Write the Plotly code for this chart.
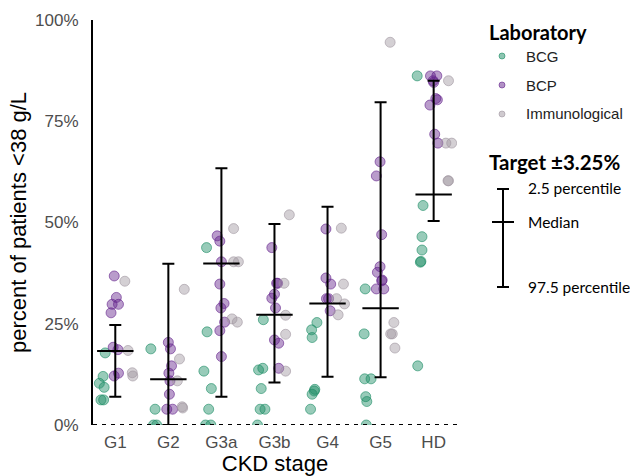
import plotly.graph_objects as go

stages = ["G1", "G2", "G3a", "G3b", "G4", "G5", "HD"]

# summary per stage (percent): lower bar end, median, upper bar end
bar_low = [7.0, 0.0, 7.0, 10.5, 11.9, 11.8, 50.4]
bar_mid = [18.3, 11.3, 39.9, 27.2, 30.0, 28.8, 56.9]
bar_high = [24.7, 39.8, 63.4, 49.6, 53.9, 79.7, 85.0]

# BCG points: stage index, jitter, value
bcg_cat = [0, 0, 0, 0, 0, 0,
           1, 1, 1, 1,
           2, 2, 2, 2, 2, 2, 2,
           3, 3, 3, 3, 3, 3, 3,
           4, 4, 4, 4, 4, 4, 4,
           5, 5, 5, 5, 5, 5, 5,
           6, 6, 6, 6, 6, 6, 6]
bcg_jit = [-0.19, -0.23, -0.30, -0.21, -0.27, -0.22,
           -0.33, -0.25, -0.28, -0.22,
           -0.28, -0.27, -0.33, -0.19, -0.24, -0.30, -0.20,
           -0.21, -0.30, -0.22, -0.25, -0.27, -0.18, -0.32,
           -0.20, -0.30, -0.29, -0.24, -0.25, -0.29, -0.32,
           -0.29, -0.31, -0.30, -0.18, -0.28, -0.26, -0.27,
           -0.31, -0.20, -0.22, -0.22, -0.25, -0.24, -0.30]
bcg_val = [17.8, 12.0, 10.3, 9.3, 6.2, 6.2,
           18.8, 3.9, 0.0, 0.0,
           43.8, 23.0, 13.3, 9.0, 3.9, 0.0, 0.0,
           26.0, 13.6, 14.0, 9.0, 3.9, 3.9, 0.0,
           25.3, 23.5, 21.6, 8.8, 8.4, 7.6, 3.9,
           33.6, 22.5, 11.4, 11.4, 7.0, 5.8, 0.0,
           86.2, 54.2, 46.5, 43.2, 40.2, 40.4, 14.6]

# BCP points
bcp_cat = [0, 0, 0, 0, 0, 0, 0, 0, 0,
           1, 1, 1, 1, 1, 1, 1, 1,
           2, 2, 2, 2, 2, 2, 2, 2, 2,
           3, 3, 3, 3, 3, 3, 3, 3, 3,
           4, 4, 4, 4, 4, 4,
           5, 5, 5, 5, 5, 5, 5, 5, 5,
           6, 6, 6, 6, 6, 6, 6, 6, 6]
bcp_jit = [-0.02, 0.02, -0.06, 0.06, -0.08, -0.04, 0.05, 0.06, -0.02,
           0.00, 0.04, 0.06, 0.01, 0.03, 0.02, -0.03, 0.08,
           -0.08, -0.03, 0.00, -0.03, 0.05, -0.01, 0.06, -0.03, 0.00,
           -0.05, 0.06, 0.04, 0.00, -0.05, 0.02, 0.00, 0.08, 0.08,
           -0.03, -0.03, 0.06, -0.02, 0.02, 0.05,
           -0.01, -0.08, 0.02, -0.01, -0.06, 0.02, 0.03, -0.08, 0.06,
           -0.06, 0.06, -0.01, 0.00, 0.07, 0.04, -0.07, 0.02, 0.08]
bcp_val = [36.8, 31.5, 29.8, 29.8, 27.7, 19.2, 18.6, 12.8, 12.1,
           20.4, 18.8, 14.6, 12.8, 10.9, 7.6, 3.9, 3.9,
           46.7, 45.4, 40.3, 34.8, 30.0, 28.9, 25.4, 23.3, 16.9,
           43.8, 35.0, 35.0, 32.3, 31.3, 28.9, 21.0, 20.2, 14.0,
           48.4, 36.3, 34.8, 31.2, 31.2, 28.2,
           65.0, 61.5, 47.0, 39.1, 37.7, 35.6, 35.8, 33.6, 33.6,
           86.2, 86.2, 85.0, 84.6, 80.3, 80.6, 79.0, 71.8, 69.6]

# Immunological points
imm_cat = [0, 0, 0, 0,
           1, 1, 1, 1, 1,
           2, 2, 2, 2, 2,
           3, 3, 3, 3, 3,
           4, 4, 4, 4, 4,
           5, 5, 5, 5, 5,
           6, 6, 6, 6, 6]
imm_jit = [0.18, 0.24, 0.32, 0.33,
           0.30, 0.21, 0.17, 0.26, 0.27,
           0.23, 0.23, 0.32, 0.20, 0.30,
           0.28, 0.18, 0.21, 0.21, 0.21,
           0.26, 0.30, 0.17, 0.32, 0.20,
           0.18, 0.25, 0.19, 0.22, 0.27,
           0.28, 0.23, 0.34, 0.27, 0.28]
imm_val = [35.5, 18.4, 12.9, 12.1,
           33.5, 16.3, 10.9, 4.5, 4.2,
           48.5, 40.3, 40.3, 26.2, 25.4,
           51.9, 35.0, 27.1, 22.4, 13.3,
           48.6, 34.8, 31.2, 29.9, 27.2,
           94.5, 25.3, 22.5, 22.5, 19.0,
           85.0, 69.6, 69.6, 60.3, 60.3]

labs = [
    ("BCG", bcg_cat, bcg_jit, bcg_val, (27, 140, 100)),
    ("BCP", bcp_cat, bcp_jit, bcp_val, (100, 35, 140)),
    ("Immunological", imm_cat, imm_jit, imm_val, (160, 150, 160)),
]

fig = go.Figure()

for name, cats, jits, vals, rgb in labs:
    r, g, b = rgb
    fig.add_trace(go.Scatter(
        x=[c + j for c, j in zip(cats, jits)], y=vals, mode="markers", name=name,
        marker=dict(size=10, color=f"rgba({r},{g},{b},0.45)",
                    line=dict(width=1, color=f"rgba({r},{g},{b},0.6)")),
        showlegend=False, hoverinfo="y",
    ))

idx = list(range(len(stages)))
fig.add_trace(go.Scatter(
    x=idx, y=bar_mid, mode="markers",
    marker=dict(size=1, color="rgba(0,0,0,0)"),
    error_y=dict(type="data", symmetric=False,
                 array=[h - m for h, m in zip(bar_high, bar_mid)],
                 arrayminus=[m - l for m, l in zip(bar_mid, bar_low)],
                 color="black", thickness=2, width=6),
    showlegend=False, hoverinfo="skip",
))
fig.add_trace(go.Scatter(
    x=idx, y=bar_mid, mode="markers",
    marker=dict(symbol="line-ew", size=26, line=dict(width=2, color="black")),
    showlegend=False, hoverinfo="skip",
))

# dashed zero line
fig.add_shape(type="line", xref="paper", yref="y", x0=0, x1=1, y0=0, y1=0,
              line=dict(color="black", width=2, dash="4px,5px"))

# ---- custom legend ----
W, H, L, T = 364.0, 405.0, 93.0, 20.0
def px(xp):
    return (xp - L) / W
def py(yp):
    return (T + H - yp) / H

fig.add_annotation(x=px(487), y=py(32), xref="paper", yref="paper", xanchor="left", yanchor="middle",
                   text="<b>Laboratory</b>", showarrow=False,
                   font=dict(family="Lato", size=20, color="black"))
for (name, _, _, _, rgb), yy in zip(labs, [56, 85, 114]):
    r, g, b = rgb
    fig.add_shape(type="circle", xref="paper", yref="paper", xsizemode="pixel", ysizemode="pixel",
                  xanchor=px(502), yanchor=py(yy), x0=-3, x1=3, y0=-3, y1=3,
                  fillcolor=f"rgba({r},{g},{b},0.5)", line=dict(width=1, color=f"rgba({r},{g},{b},0.6)"))
    fig.add_annotation(x=px(524), y=py(yy), xref="paper", yref="paper", xanchor="left", yanchor="middle",
                       text=name, showarrow=False,
                       font=dict(family="Liberation Sans", size=15, color="#222222"))

fig.add_annotation(x=px(487), y=py(162), xref="paper", yref="paper", xanchor="left", yanchor="middle",
                   text="<b>Target ±3.25%</b>", showarrow=False,
                   font=dict(family="Lato", size=20.5, color="black"))
bx = px(503)
fig.add_shape(type="line", xref="paper", yref="paper", x0=bx, x1=bx, y0=py(287), y1=py(189),
              line=dict(color="black", width=2))
for yy, hw in [(189, 6), (287, 6), (222, 11)]:
    fig.add_shape(type="line", xref="paper", yref="paper", x0=px(503 - hw), x1=px(503 + hw),
                  y0=py(yy), y1=py(yy), line=dict(color="black", width=2))
for txt, yy in [("2.5 percentile", 188), ("Median", 222), ("97.5 percentile", 287)]:
    fig.add_annotation(x=px(526), y=py(yy), xref="paper", yref="paper", xanchor="left", yanchor="middle",
                       text=txt, showarrow=False,
                       font=dict(family="Lato", size=15.5, color="black"))

fig.update_layout(
    width=630, height=476,
    margin=dict(l=93, r=173, t=20, b=51),
    paper_bgcolor="white", plot_bgcolor="white",
    font=dict(family="Liberation Sans"),
    xaxis=dict(range=[-0.42, 6.44], tickvals=idx, ticktext=stages, showgrid=False,
               zeroline=False, showline=False, ticks="", automargin=False,
               ticklabelstandoff=5,
               tickfont=dict(size=17, color="#4d4d4d"),
               title=dict(text="CKD stage", font=dict(size=22, color="black"), standoff=5)),
    yaxis=dict(range=[0, 100], tickvals=[0, 25, 50, 75, 100],
               ticktext=["0%", "25%", "50%", "75%", "100%"], showgrid=False,
               zeroline=False, showline=True, linecolor="black", linewidth=2, ticks="",
               automargin=False, ticklabelstandoff=9,
               tickfont=dict(size=17, color="#4d4d4d"),
               title=dict(text="percent of patients <38 g/L", font=dict(size=22, color="black"), standoff=2)),
)

fig.write_html("out.html")
